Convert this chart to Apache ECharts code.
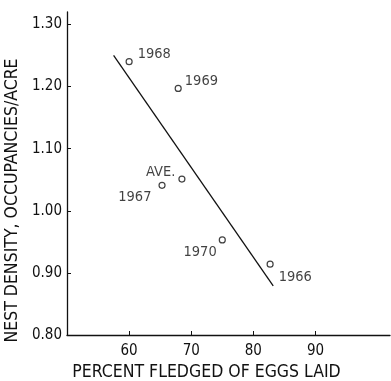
<!DOCTYPE html>
<html>
<head>
<meta charset="utf-8">
<script src="https://cdn.jsdelivr.net/npm/echarts@6/dist/echarts.min.js"></script>
<style>
  html, body { margin: 0; padding: 0; background: #fff; }
  #chart { width: 391px; height: 381px; }
</style>
</head>
<body>
<div id="chart"></div>
<script>
// observed seasons: percent fledged vs nest density
const yearNames = ["1968", "1969", "AVE.", "1967", "1970", "1966"];
const pctFledged = [60.0, 67.9, 68.5, 65.3, 75.0, 82.7];
const nestDensity = [1.240, 1.197, 1.051, 1.041, 0.953, 0.914];

// fitted regression line end points
const fitX = [57.5, 83.2];
const fitY = [1.250, 0.879];

const xTicks = [60, 70, 80, 90];
const yTicks = [0.8, 0.9, 1.0, 1.1, 1.2, 1.3];

// where each point's label sits
const labelPlace = {
    "1968": { position: "right", distance: 5, offset: [0, -7] },
    "1969": { position: "right", distance: 3, offset: [0, -7] },
    "AVE.": { position: "left", distance: 3, offset: [0, -7] },
    "1967": { position: "left", distance: 7, offset: [0, 12] },
    "1970": { position: "left", distance: 2, offset: [0, 12] },
    "1966": { position: "right", distance: 5, offset: [0, 13] }
};

const FONT = "'DejaVu Sans Condensed', 'Liberation Sans', sans-serif";

const chart = echarts.init(document.getElementById("chart"));

const points = yearNames.map((n, i) => ({
    name: n,
    value: [pctFledged[i], nestDensity[i]],
    label: Object.assign({ show: true, formatter: "{b}" }, labelPlace[n])
}));

chart.setOption({
    animation: false,
    backgroundColor: "#fff",
    grid: { left: 67, right: 1, top: 12, bottom: 46, outerBoundsMode: "none", containLabel: false },
    xAxis: {
        type: "value",
        min: 50,
        max: 102,
        name: "PERCENT FLEDGED OF EGGS LAID",
        nameLocation: "middle",
        nameGap: 21,
        nameTextStyle: { color: "#111", fontFamily: FONT, fontSize: 17.5, padding: [0, 44, 0, 0] },
        splitLine: { show: false },
        axisLine: { lineStyle: { color: "#111", width: 1.3 } },
        axisTick: { inside: true, length: 4, customValues: xTicks, lineStyle: { color: "#111" } },
        axisLabel: { customValues: xTicks, color: "#111", fontFamily: FONT, fontSize: 15, margin: 9 }
    },
    yAxis: {
        type: "value",
        min: 0.8,
        max: 1.32,
        name: "NEST DENSITY, OCCUPANCIES/ACRE",
        nameLocation: "middle",
        nameRotate: 90,
        nameGap: 46,
        nameTextStyle: { color: "#111", fontFamily: FONT, fontSize: 17.5, padding: [0, 54, 0, 0] },
        splitLine: { show: false },
        axisLine: { show: true, lineStyle: { color: "#111", width: 1.3 } },
        axisTick: { show: true, inside: true, length: 4, customValues: yTicks, lineStyle: { color: "#111" } },
        axisLabel: {
            customValues: yTicks,
            color: "#111",
            fontFamily: FONT,
            fontSize: 15,
            margin: 5,
            formatter: v => v.toFixed(2)
        }
    },
    series: [
        {
            type: "line",
            data: fitX.map((x, i) => [x, fitY[i]]),
            showSymbol: false,
            lineStyle: { color: "#111", width: 1.3 },
            silent: true
        },
        {
            type: "scatter",
            data: points,
            symbol: "circle",
            symbolSize: 6,
            itemStyle: { color: "#fff", borderColor: "#111", borderWidth: 1.2 },
            label: { color: "#111", fontFamily: FONT, fontSize: 14.5 }
        }
    ]
});
</script>
</body>
</html>
